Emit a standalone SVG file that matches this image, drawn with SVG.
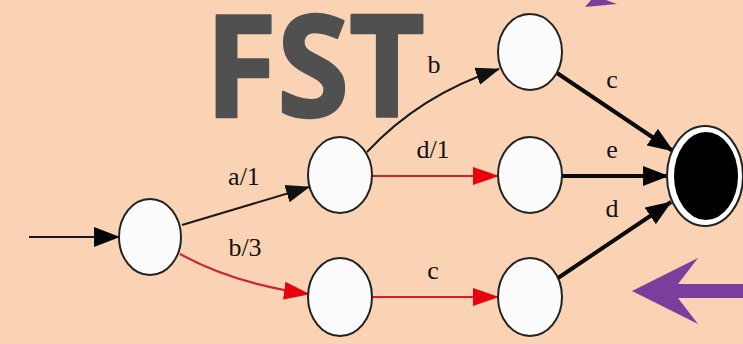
<svg xmlns="http://www.w3.org/2000/svg" width="743" height="344" viewBox="0 0 743 344">
<style>
.st{fill:#fcfcfc;stroke:#222;stroke-width:2}
.lbl{font-family:"Liberation Serif","Times New Roman",serif;font-size:26px;fill:#111;text-anchor:middle}
.thin{fill:none;stroke:#1a1a1a;stroke-width:2}
.red{fill:none;stroke:#d0202e;stroke-width:2}
.thick{fill:none;stroke:#0a0a0a;stroke-width:4}
.purple{fill:#7a3f9c}
</style>
<defs>
<marker id="ah" markerUnits="userSpaceOnUse" markerWidth="24" markerHeight="20" refX="23" refY="10" orient="auto" viewBox="0 0 24 20">
<path d="M0,1 L24,10 L0,19 z" fill="#111"/>
</marker>
<marker id="ahr" markerUnits="userSpaceOnUse" markerWidth="26" markerHeight="20" refX="25" refY="10" orient="auto" viewBox="0 0 26 20">
<path d="M0,1 L26,10 L0,19 z" fill="#e8000e"/>
</marker>
<marker id="ahk" markerUnits="userSpaceOnUse" markerWidth="26" markerHeight="22" refX="25" refY="11" orient="auto" viewBox="0 0 26 22">
<path d="M0,1 L26,11 L0,21 z" fill="#050505"/>
</marker>
</defs>
<rect width="743" height="344" fill="#fad3b4"/>
<text x="205" y="117" font-family="'Open Sans','Noto Sans',sans-serif" font-weight="bold" font-size="142" fill="#505050" stroke="#505050" stroke-width="2.5" stroke-linejoin="round" textLength="220" lengthAdjust="spacingAndGlyphs">FST</text>
<g id="connectors">
<path class="thin" d="M29,237 L119,237" stroke="#333" stroke-width="3" marker-end="url(#ahk)"/>
<path class="thin" d="M182,225 L309,187" marker-end="url(#ah)"/>
<path class="red" d="M180,254 Q235,284 309,294" marker-end="url(#ahr)"/>
<path class="thin" d="M367,152 Q420,95 499,69" marker-end="url(#ah)"/>
<path class="red" d="M372,176 L498,176" marker-end="url(#ahr)"/>
<path class="red" d="M372,297 L498,297" marker-end="url(#ahr)"/>
<path class="thick" d="M557,73 L673,151" marker-end="url(#ahk)"/>
<path class="thick" d="M562,176 L668,176" marker-end="url(#ahk)"/>
<path class="thick" d="M558,278 L671,202" marker-end="url(#ahk)"/>
</g>
<g id="labels">
<text class="lbl" x="244" y="185">a/1</text>
<text class="lbl" x="245" y="256">b/3</text>
<text class="lbl" x="434" y="73">b</text>
<text class="lbl" x="433" y="158">d/1</text>
<text class="lbl" x="433" y="279">c</text>
<text class="lbl" x="612" y="88">c</text>
<text class="lbl" x="612" y="158">e</text>
<text class="lbl" x="612" y="217">d</text>
</g>
<g id="s0"><ellipse class="st" cx="150" cy="237" rx="31" ry="38"/></g>
<g id="s1"><ellipse class="st" cx="340" cy="175" rx="32" ry="38"/></g>
<g id="s2"><ellipse class="st" cx="340" cy="297" rx="32" ry="39"/></g>
<g id="s3"><ellipse class="st" cx="530" cy="52" rx="32" ry="38"/></g>
<g id="s4"><ellipse class="st" cx="530" cy="175" rx="32" ry="38"/></g>
<g id="s5"><ellipse class="st" cx="530" cy="297" rx="32" ry="39"/></g>
<g id="final">
<ellipse cx="705" cy="176" rx="38" ry="50" fill="#fff" stroke="#222" stroke-width="2"/>
<ellipse cx="706" cy="176" rx="32" ry="44" fill="#000"/>
</g>
<g id="arrow-top"><polygon class="purple" points="585,7 617,4 606,0 591,0"/></g>
<g id="arrow-bottom"><polygon class="purple" points="632,291 698,258 678,284 743,284 743,298 678,298 698,324"/></g>
</svg>
